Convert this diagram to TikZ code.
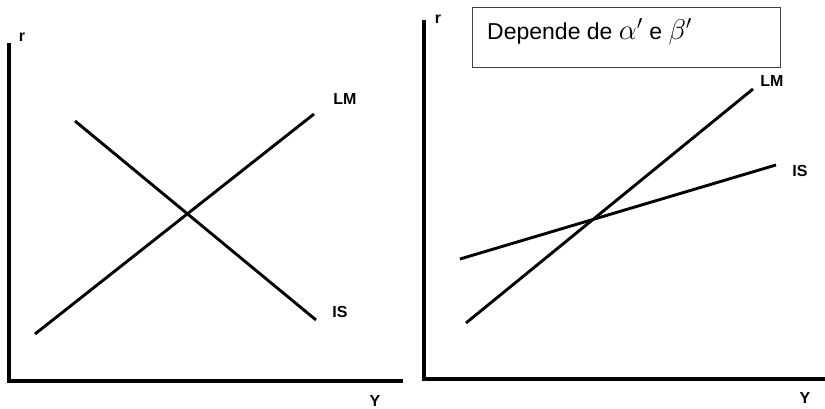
\documentclass[tikz,border=0pt]{standalone}
\usepackage{fontspec}
\usepackage{graphicx}
\setmainfont{Liberation Sans}
\begin{document}
\begin{tikzpicture}[x=1pt,y=-1pt,
  axis/.style={line width=3.4pt},
  curve/.style={line width=2.9pt},
  lbl/.style={font=\bfseries\fontsize{16}{18}\selectfont, inner sep=0pt}]
\useasboundingbox (0,0) rectangle (825,409);
% left panel
\coordinate (lt) at (9,43);
\coordinate (lo) at (9,381);
\coordinate (lr) at (403,381);
\draw[axis] (lt) -- (lo) -- (lr);
\node[lbl] (lrr) at (22,37) {r};
\node[lbl] (lyy) at (375,401) {Y};
\coordinate (lm1) at (35,334);
\coordinate (lm2) at (314,114);
\coordinate (is1) at (75,121);
\coordinate (is2) at (316,320);
\draw[curve] (lm1) -- (lm2);
\draw[curve] (is1) -- (is2);
\node[lbl] (lmlab) at (345,99) {LM};
\node[lbl] (islab) at (340,312) {IS};
% right panel
\coordinate (rt) at (424,20);
\coordinate (ro) at (424,379);
\coordinate (rr) at (825,379);
\draw[axis] (rt) -- (ro) -- (rr);
\node[lbl] (rrr) at (438,19) {r};
\node[lbl] (ryy) at (805,398) {Y};
\coordinate (rlm1) at (466,323);
\coordinate (rlm2) at (753,89);
\coordinate (ris1) at (460,259);
\coordinate (ris2) at (776,165);
\draw[curve] (rlm1) -- (rlm2);
\draw[curve] (ris1) -- (ris2);
\node[lbl] (rlmlab) at (772,81) {LM};
\node[lbl] (rislab) at (800,171) {IS};
\node[draw=black!75, line width=0.8pt, minimum width=308pt, minimum height=60pt, anchor=north west, inner sep=0pt] (box) at (472,7) {};
\node[anchor=west, inner sep=0pt, font=\fontsize{23}{26}\selectfont] (boxtxt) at (487,32) {Depende de\;\scalebox{1.15}{$\alpha'$} e\;\scalebox{1.15}{$\beta'$}};
\end{tikzpicture}
\end{document}
